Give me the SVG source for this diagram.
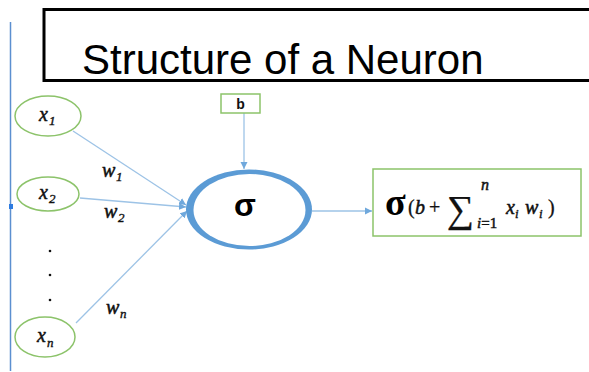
<svg xmlns="http://www.w3.org/2000/svg" width="589" height="372" viewBox="0 0 589 372">
<defs>
<style>
.in{fill:#fff;stroke:#8cc36a;stroke-width:1.5}
.con{stroke:#9dc3e6;stroke-width:1.3;fill:none}
.m{font-family:"Liberation Serif","Times New Roman",serif;font-style:italic;fill:#111;stroke:#111;stroke-width:0.5}
.r{font-family:"Liberation Serif","Times New Roman",serif;fill:#111;stroke:#111;stroke-width:0.3}
.sub{font-family:"Liberation Serif","Times New Roman",serif;font-style:italic;fill:#111;stroke:#111;stroke-width:0.4;font-size:13px}
</style>
<marker id="ah" markerWidth="8" markerHeight="8" refX="7" refY="4" orient="auto" markerUnits="userSpaceOnUse">
<path d="M0,0.5 L7,4 L0,7.5 Z" fill="#6fa8dc"/>
</marker>
</defs>
<rect width="589" height="372" fill="#fff"/>
<g id="frame">
<line x1="10.5" y1="22" x2="10.5" y2="371" stroke="#5b8fd0" stroke-width="1.5"/>
<rect x="9" y="204" width="4" height="5" fill="#2d7be0"/>
</g>
<g id="title">
<rect x="44" y="9.5" width="560" height="71" fill="#fff" stroke="#000" stroke-width="3"/>
<text x="82" y="74" font-family="Liberation Sans,Arial,sans-serif" font-size="42" fill="#000">Structure of a Neuron</text>
</g>
<g id="connectors">
<line class="con" x1="73" y1="131" x2="186" y2="205" marker-end="url(#ah)"/>
<line class="con" x1="80" y1="198" x2="186" y2="207" marker-end="url(#ah)"/>
<line class="con" x1="76" y1="323" x2="187" y2="211" marker-end="url(#ah)"/>
<line class="con" x1="244" y1="113" x2="244" y2="169" marker-end="url(#ah)"/>
<line class="con" x1="312" y1="211" x2="372" y2="211" marker-end="url(#ah)"/>
</g>
<g id="x1">
<ellipse class="in" cx="48" cy="116" rx="33" ry="20"/>
<text class="m" x="39" y="121" font-size="20">x</text><text class="sub" x="49" y="125">1</text>
</g>
<g id="x2">
<ellipse class="in" cx="48" cy="194" rx="31" ry="17"/>
<text class="m" x="39" y="199" font-size="20">x</text><text class="sub" x="49" y="203">2</text>
</g>
<g id="dots" fill="#111">
<circle cx="50" cy="251" r="1.3"/>
<circle cx="50" cy="275" r="1.3"/>
<circle cx="50" cy="300" r="1.3"/>
</g>
<g id="xn">
<ellipse class="in" cx="45" cy="337" rx="30" ry="20"/>
<text class="m" x="37" y="342" font-size="20">x</text><text class="sub" x="47" y="347">n</text>
</g>
<g id="weights">
<text class="m" x="102" y="177" font-size="20">w</text><text class="sub" x="116" y="181">1</text>
<text class="m" x="104" y="218" font-size="20">w</text><text class="sub" x="118" y="222">2</text>
<text class="m" x="106" y="314" font-size="20">w</text><text class="sub" x="120" y="318">n</text>
</g>
<g id="bias">
<rect x="221" y="94" width="39" height="19" fill="#fff" stroke="#8cc36a" stroke-width="1.5"/>
<text x="240.5" y="109" text-anchor="middle" font-family="Liberation Sans,Arial,sans-serif" font-weight="bold" font-size="14" fill="#111">b</text>
</g>
<g id="neuron">
<ellipse cx="249" cy="209.5" rx="63" ry="40" fill="#5b9bd5"/>
<ellipse cx="249.5" cy="210" rx="56" ry="36" fill="#fff"/>
<text x="245" y="216" text-anchor="middle" font-family="Liberation Sans,Arial,sans-serif" font-weight="bold" font-size="32" fill="#000">σ</text>
</g>
<g id="output">
<rect x="373" y="169" width="208" height="67" fill="#fff" stroke="#8cc36a" stroke-width="1.5"/>
<text x="385" y="215" font-family="Liberation Serif,serif" font-weight="bold" font-size="38" fill="#000">σ</text>
<text class="r" x="408" y="214" font-size="20">(</text>
<text class="m" x="415" y="214" font-size="20">b</text>
<text class="r" x="429" y="214" font-size="20">+</text>
<text class="r" x="447" y="222" font-size="38">∑</text>
<text class="m" x="481" y="190" font-size="16">n</text>
<text class="m" x="477" y="228" font-size="15">i<tspan font-style="normal">=1</tspan></text>
<text class="m" x="506" y="214" font-size="20">x</text><text class="sub" x="515" y="218">i</text>
<text class="m" x="525" y="214" font-size="20">w</text><text class="sub" x="539" y="218">i</text>
<text class="r" x="548" y="214" font-size="20">)</text>
</g>
</svg>
